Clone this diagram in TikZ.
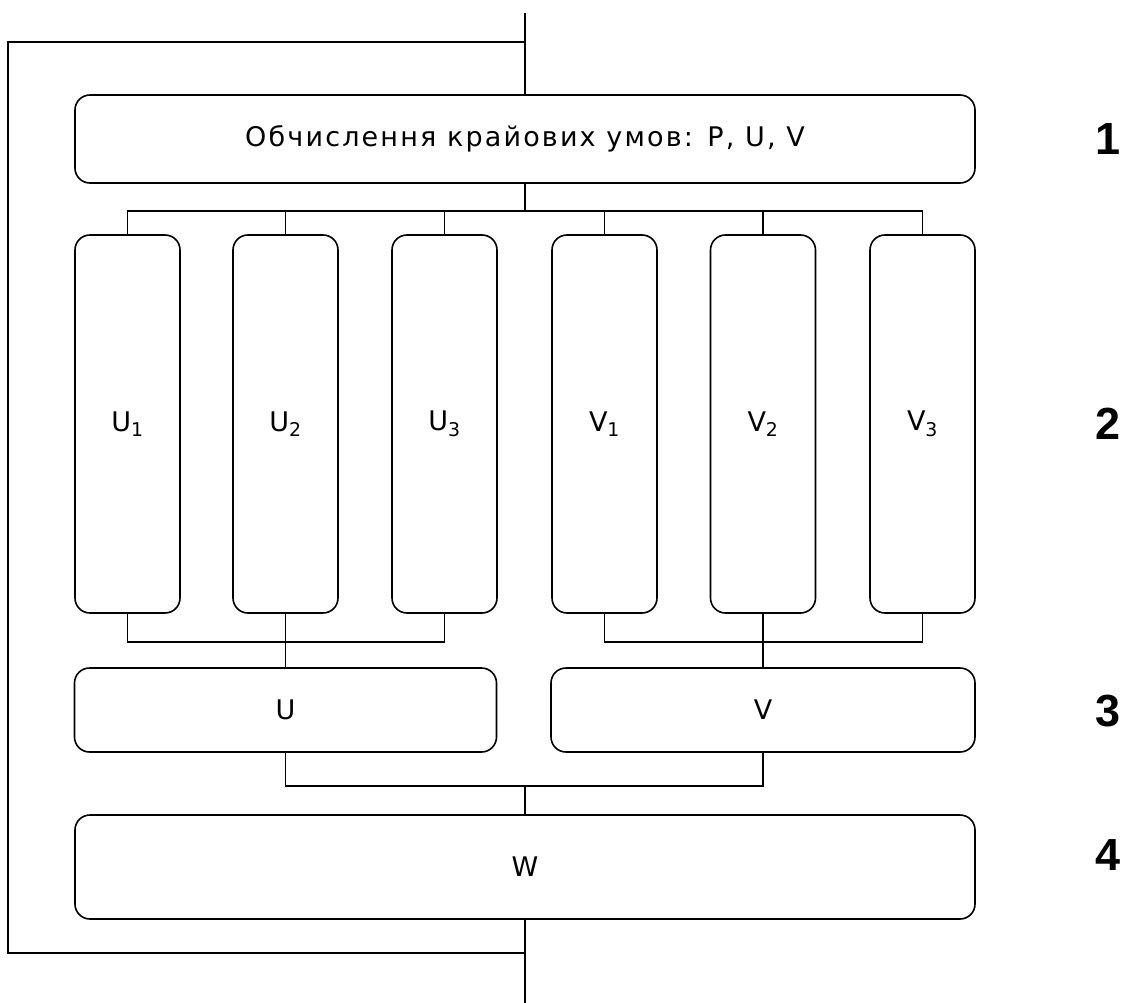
\documentclass[tikz,border=0pt]{standalone}
\usepackage{fontspec}
\setmainfont{DejaVu Sans}[LetterSpace=8]
\newfontfamily\numfont{Liberation Sans}
\begin{document}
\begin{tikzpicture}[x=1pt,y=-1pt,line width=1.6pt,
  blk/.style={draw,rounded corners=15pt,inner sep=0pt,
    font=\fontsize{27}{32}\selectfont},
  colbox/.style={blk,minimum width=105pt,minimum height=378pt},
  stagenum/.style={font=\numfont\bfseries\fontsize{45}{50}\selectfont}]
\useasboundingbox (0,0) rectangle (1127,1003);

% stage 1: boundary conditions
\node[blk,minimum width=900pt,minimum height=88pt] (top) at (525,139)
  {Обчислення крайових умов: P, U, V};

% stage 2: six parallel columns
\node[colbox] (c1) at (127.5,424) {U\textsubscript{1}};
\node[colbox] (c2) at (285.5,424) {U\textsubscript{2}};
\node[colbox] (c3) at (444.5,424) {U\textsubscript{3}};
\node[colbox] (c4) at (604.5,424) {V\textsubscript{1}};
\node[colbox] (c5) at (763,424) {V\textsubscript{2}};
\node[colbox] (c6) at (922.5,424) {V\textsubscript{3}};

% stage 3: assembled U and V
\node[blk,minimum width=422pt,minimum height=84pt] (ubox) at (285.5,710) {U};
\node[blk,minimum width=424pt,minimum height=84pt] (vbox) at (763,710) {V};

% stage 4: W
\node[blk,minimum width=900pt,minimum height=104pt] (wbox) at (525,867) {W};

% stage numbers
\node[stagenum] (n1) at (1108,139) {1};
\node[stagenum] (n2) at (1108,424) {2};
\node[stagenum] (n3) at (1108,711) {3};
\node[stagenum] (n4) at (1108,855) {4};

% loop frame and in/out lines
\coordinate (in) at (525,13);
\coordinate (ft) at (525,42);
\coordinate (fb) at (525,953);
\coordinate (out) at (525,1003);
\coordinate (lt) at (8,42);
\coordinate (lb) at (8,953);
\draw (in) -- (top.north);
\draw (ft) -- (lt) -- (lb) -- (fb);
\draw (wbox.south) -- (out);

% fan-out from stage 1 to the columns
\draw (top.south) -- ++(0,27) coordinate (j1);
\draw (c1.north) |- (j1) -| (c6.north);
\foreach \c in {c2,c3,c4,c5} \draw (\c.north) -- (\c.north |- j1);

% merge of the columns into U and V
\draw (c1.south) -- ++(0,28) coordinate (j2) -| (c3.south);
\draw (c2.south) -- (ubox.north);
\draw (c4.south) -- ++(0,28) coordinate (j3) -| (c6.south);
\draw (c5.south) -- (vbox.north);

% merge of U and V into W
\draw (ubox.south) -- ++(0,33) coordinate (j4) -| (vbox.south);
\draw (wbox.north) -- (wbox.north |- j4);
\end{tikzpicture}
\end{document}
